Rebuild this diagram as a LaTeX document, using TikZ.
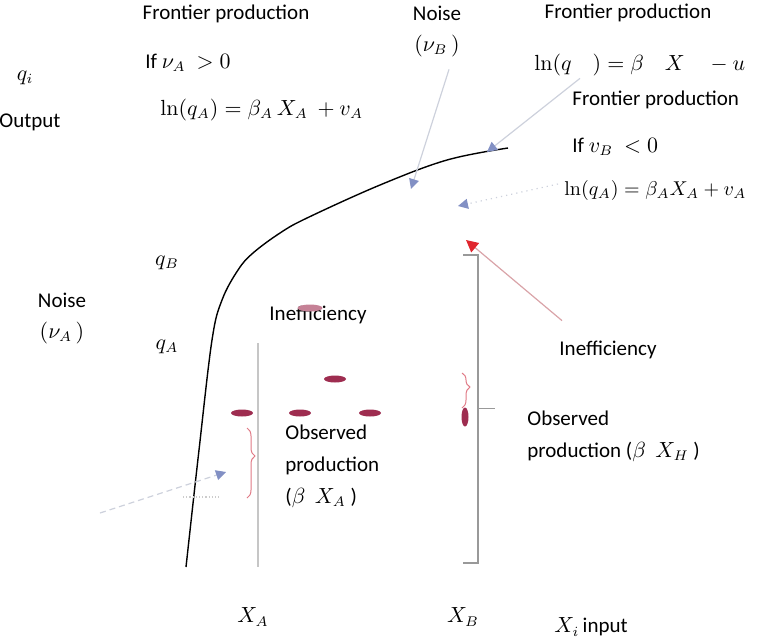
\documentclass[tikz,border=0pt]{standalone}
\usepackage{amsmath}
\usepackage[no-math]{fontspec}
\setmainfont{Carlito}
\usepackage{tikz}
\usetikzlibrary{arrows.meta, positioning, shapes, decorations.pathreplacing}

\definecolor{noiseblue}{HTML}{8290C4}
\definecolor{leadgray}{HTML}{CDD1DC}
\definecolor{dotred}{HTML}{9E2D50}
\definecolor{ineffred}{HTML}{E0262E}
\definecolor{ineffline}{HTML}{D9A3A8}
\definecolor{bracered}{HTML}{E07A86}

\tikzset{
    lbl/.style={inner sep=1pt, font=\fontsize{10.5}{16}\selectfont},
    noisearrow/.style={leadgray, line width=0.6pt, -{Triangle[length=5pt, width=5pt, color=noiseblue]}},
    ineffarrow/.style={ineffline, line width=0.6pt, -{Triangle[length=6pt, width=6pt, color=ineffred]}},
    obsdot/.style={ellipse, fill=dotred, inner sep=0pt, minimum width=11pt, minimum height=3.5pt},
    redbrace/.style={bracered, line width=0.5pt, decorate, decoration={brace, amplitude=4pt, aspect=0.4}},
}

\begin{document}
\begin{tikzpicture}[x=0.5pt, y=-0.5pt]
        \useasboundingbox (0,0) rectangle (763,638);

        % Frontier curve
        \draw[line width=0.7pt] plot[smooth, tension=0.6] coordinates {(186,567) (199,450) (212,340) (222,300) (238,270) (253,253) (280,233) (307,218) (380,185) (447,160) (508,148)};

        % Axis labels
        \node (qi) [lbl] at (25,78) {$q_i$};
        \node (output) [lbl] at (30,122) {Output};
        \node (xA) [lbl] at (253,617) {$X_A$};
        \node (xB) [lbl] at (463,617) {$X_B$};
        \node (xi) [lbl, anchor=west] at (552,627) {$X_i$\,input};
        \node (qB) [lbl] at (167,263) {$q_B$};
        \node (qA) [lbl] at (167,347) {$q_A$};

        % Firm A: noise above the frontier
        \node (frontA) [lbl] at (226,14) {Frontier production};
        \node (ifA) [lbl, anchor=west] at (143,63) {If $\nu_A\ > 0$};
        \node (eqA) [lbl, anchor=west] at (158,110) {$\ln(q_A) = \beta_A\, X_A\ + v_A$};
        \node (noiseA) [lbl] at (62,300) {Noise};
        \node (nuA) [lbl, below=5pt of noiseA] {$(\nu_A\,)$};

        % Firm B: noise below the frontier
        \node (noiseB) [lbl] at (437,13) {Noise};
        \node (nuB) [lbl, below=5pt of noiseB] {$(\nu_B\,)$};
        \node (frontB) [lbl] at (628,13) {Frontier production};
        \node (eqB) [lbl, anchor=west] at (532,65) {$\ln(q\quad) = \beta\quad X\quad - u$};
        \node (frontC) [lbl, anchor=west] at (570,100) {Frontier production};
        \node (ifB) [lbl, anchor=west] at (570,147) {If $v_B\ < 0$};
        \node (eqC) [lbl, anchor=west, font=\fontsize{10}{12}\selectfont] at (562,190) {$\ln(q_A) = \beta_A X_A + v_A$};

        % Inefficiency and observed production
        \node (ineffM) [lbl] at (318,315) {Inefficiency};
        \node (ineffR) [lbl] at (608,350) {Inefficiency};
        \node (obsA) [lbl, anchor=west, align=left] at (283,466) {Observed\\production\\($\beta\ \ X_A$ )};
        \node (obsB) [lbl, anchor=west, align=left] at (525,436) {Observed\\production ($\beta\ \ X_H$ )};

        % Observation marks
        \node (dotM) [obsdot, fill=dotred!60, minimum width=12.5pt] at (310,308) {};
        \node (dot1) [obsdot] at (242,413) {};
        \node (dot2) [obsdot] at (300,413) {};
        \node (dot3) [obsdot] at (335,379) {};
        \node (dot4) [obsdot] at (370,413) {};
        \node (dotB) [obsdot, minimum width=3.5pt, minimum height=9.5pt] at (465,417) {};

        % Input levels
        \coordinate (xAtop) at (258,343);
        \coordinate (xAbot) at (258,567);
        \coordinate (xBtop) at (478,255);
        \coordinate (xBbot) at (478,563);
        \draw[gray!45, line width=0.6pt] (xAtop) -- (xAbot);
        \draw[gray!80, line width=0.6pt] ([xshift=-7.5pt]xBtop) -- (xBtop) -- (xBbot) -- ([xshift=-7.5pt]xBbot);
        \draw[gray!80, line width=0.5pt] (478,408) -- (495,408);
        \draw[gray!40, line width=0.6pt, densely dotted] (183,497) -- (220,497);

        % Braces
        \draw[redbrace] (247,428) -- (247,498);
        \draw[redbrace, aspect=0.5] (462,373) -- (462,408);

        % Arrows
        \coordinate (nbTip) at (411,189);
        \coordinate (frTip) at (487,152);
        \coordinate (ncTip) at (458,206);
        \coordinate (naStart) at (100,513);
        \coordinate (naTip) at (226,472);
        \coordinate (irTip) at (466,240);
        \draw[noisearrow] ([xshift=6pt, yshift=-5pt]nuB.south) -- (nbTip);
        \draw[noisearrow] ([xshift=24pt]eqB.south west) -- (frTip);
        \draw[noisearrow, dotted] ([xshift=-2pt, yshift=3pt]eqC.west) -- (ncTip);
        \draw[noisearrow, densely dashed] (naStart) -- (naTip);
        \draw[ineffarrow] ([shift={(5,-18)}]ineffR.north west) -- (irTip);
    \end{tikzpicture}
\end{document}
